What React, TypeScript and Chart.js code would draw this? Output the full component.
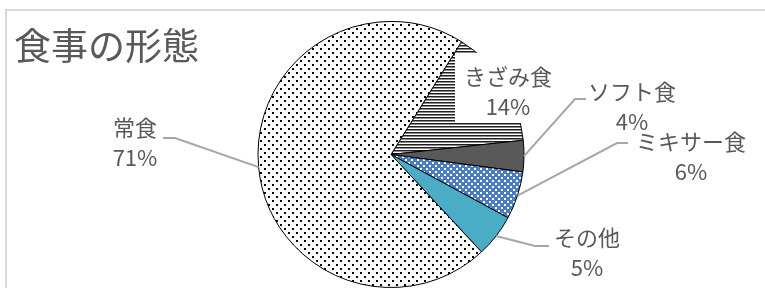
import React, { useEffect, useRef } from "react";
import { Chart, registerables } from "chart.js";

Chart.register(...registerables);

const titleText = "食事の形態";
const categories = ["きざみ食", "ソフト食", "ミキサー食", "その他", "常食"];
const values = [14.4, 3.8, 5.8, 5.2, 70.8];

// label layout (text centre x, first-line centre y, leader elbow x/y, leader end x)
const labelLayout = [
  { cx: 508, cy: 77, box: true },
  { cx: 632, cy: 92, elbowX: 575, elbowY: 99, endX: 586 },
  { cx: 691, cy: 142, elbowX: 617, elbowY: 143, endX: 628 },
  { cx: 587, cy: 238, elbowX: 535, elbowY: 246, endX: 549 },
  { cx: 135, cy: 128, elbowX: 175, elbowY: 138, endX: 163 },
];

const FONT = '"Noto Sans CJK JP", "Noto Sans", sans-serif';
const TEXT = "#595959";

function makePattern(kind: string): CanvasPattern | string {
  const c = document.createElement("canvas");
  const ctx = c.getContext("2d")!;
  if (kind === "dots") {
    c.width = 8; c.height = 8;
    ctx.fillStyle = "#ffffff"; ctx.fillRect(0, 0, 8, 8);
    ctx.fillStyle = "#000000";
    ctx.fillRect(0, 0, 2, 2);
    ctx.fillRect(4, 4, 2, 2);
  } else if (kind === "stripes") {
    c.width = 4; c.height = 3;
    ctx.fillStyle = "#ffffff"; ctx.fillRect(0, 0, 4, 3);
    ctx.fillStyle = "#1f1f1f"; ctx.fillRect(0, 0, 4, 1);
    ctx.fillStyle = "#8a8a8a"; ctx.fillRect(0, 1, 4, 1);
  } else if (kind === "bluedots") {
    c.width = 6; c.height = 6;
    ctx.fillStyle = "#4a7ec0"; ctx.fillRect(0, 0, 6, 6);
    ctx.fillStyle = "#ffffff";
    ctx.fillRect(0, 0, 2, 2);
    ctx.fillRect(3, 3, 2, 2);
  }
  return ctx.createPattern(c, "repeat")!;
}

const overlay = {
  id: "overlay",
  afterDatasetsDraw(chart: any) {
    const ctx = chart.ctx as CanvasRenderingContext2D;
    const meta = chart.getDatasetMeta(0);
    const total = values.reduce((a, b) => a + b, 0);
    ctx.save();
    // frame
    ctx.strokeStyle = "#d9d9d9";
    ctx.lineWidth = 2;
    ctx.beginPath();
    ctx.moveTo(6, 300);
    ctx.lineTo(6, 10);
    ctx.lineTo(800, 10);
    ctx.stroke();
    // title
    ctx.fillStyle = TEXT;
    ctx.font = `37px ${FONT}`;
    ctx.textAlign = "left";
    ctx.textBaseline = "middle";
    ctx.fillText(titleText, 14, 46);

    ctx.font = `22px ${FONT}`;
    ctx.textAlign = "center";
    meta.data.forEach((arc: any, i: number) => {
      const L = labelLayout[i];
      const p = arc.getProps(["x", "y", "startAngle", "endAngle", "outerRadius"], true);
      const mid = (p.startAngle + p.endAngle) / 2;
      const ex = p.x + Math.cos(mid) * p.outerRadius;
      const ey = p.y + Math.sin(mid) * p.outerRadius;
      const pct = Math.round((values[i] / total) * 100) + "%";
      if (L.box) {
        ctx.fillStyle = "#ffffff";
        ctx.fillRect(455, 53, 110, 70);
      } else {
        ctx.strokeStyle = "#a6a6a6";
        ctx.lineWidth = 2;
        ctx.beginPath();
        ctx.moveTo(ex, ey);
        ctx.lineTo(L.elbowX!, L.elbowY!);
        ctx.lineTo(L.endX!, L.elbowY!);
        ctx.stroke();
      }
      ctx.fillStyle = TEXT;
      ctx.fillText(categories[i], L.cx, L.cy);
      ctx.fillText(pct, L.cx, L.cy + 30);
    });
    ctx.restore();
  },
};

export default function App() {
  const ref = useRef<HTMLCanvasElement>(null);
  useEffect(() => {
    const colors = [
      makePattern("stripes"),
      "#595959",
      makePattern("bluedots"),
      "#4bacc6",
      makePattern("dots"),
    ];
    const chart = new Chart(ref.current!, {
      type: "pie",
      data: {
        labels: categories,
        datasets: [
          {
            data: values,
            backgroundColor: colors as any,
            borderColor: "#000000",
            borderWidth: 1,
          },
        ],
      },
      options: {
        responsive: false,
        animation: false,
        rotation: 32,
        layout: { padding: { top: 21, bottom: -2, left: 17, right: 0 } },
        plugins: {
          legend: { display: false },
          tooltip: { enabled: false },
          title: { display: false },
        },
      },
      plugins: [overlay],
    });
    (document as any).fonts?.load(`22px "Noto Sans CJK JP"`, "食").then(() => chart.draw());
    return () => chart.destroy();
  }, []);
  return (
    <div style={{ position: "absolute", left: 0, top: 0, width: 765, height: 288, background: "#fff" }}>
      <canvas ref={ref} width={765} height={288} style={{ display: "block" }} />
    </div>
  );
}
